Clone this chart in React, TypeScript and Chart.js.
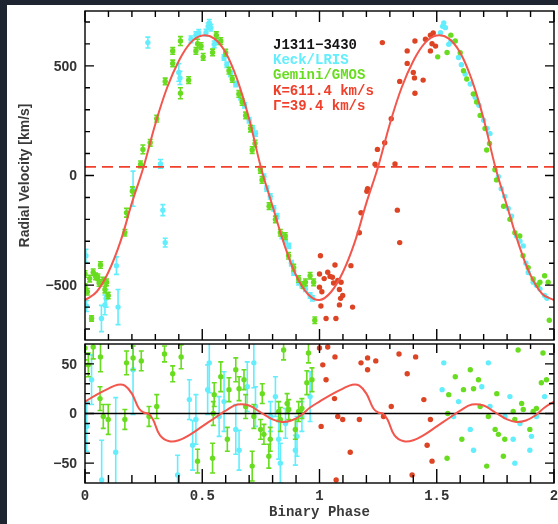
import React, { useEffect, useRef } from "react";
import { Chart, registerables } from "chart.js";
Chart.register(...registerables);

// ---------- data ----------
const gammaVel = 39.4;

// model RV curve over one cycle
const modelPhase = [0, 0.05, 0.1, 0.15, 0.2, 0.25, 0.3, 0.35, 0.4, 0.45, 0.5, 0.55, 0.6, 0.65, 0.7, 0.75, 0.8, 0.85, 0.9, 0.95, 1.0];
const modelVel = [-568, -530, -440, -305, -125, 40, 235, 400, 522, 605, 638, 625, 560, 435, 258, 38, -140, -315, -455, -540, -568];

// model residual curve (lower panel) over one cycle
const resModelPhase = [0, 0.05, 0.1, 0.14, 0.17, 0.2, 0.23, 0.25, 0.27, 0.29, 0.32, 0.36, 0.4, 0.45, 0.5, 0.55, 0.6, 0.65, 0.7, 0.75, 0.8, 0.84, 0.88, 0.92, 0.96, 1.0];
const resModel = [12, 19, 25, 29, 28, 20, 5, 1, 0, -6, -22, -28, -27, -21, -13, -5, 3, 9, 8, 1, -6, -8.5, -7, -2, 6, 12];

// Keck/LRIS radial velocities
const keckPhase = [0.004, 0.006, 0.07, 0.085, 0.09, 0.134, 0.141, 0.205, 0.268, 0.322, 0.332, 0.342, 0.4, 0.405, 0.452, 0.473, 0.485,
  0.516, 0.525, 0.53, 0.537, 0.551, 0.56, 0.593, 0.605, 0.621, 0.643, 0.664, 0.68, 0.7, 0.715, 0.727, 0.763, 0.775, 0.79, 0.805, 0.819,
  0.84, 0.855, 0.869, 0.88, 0.89, 0.911, 0.925, 0.94, 0.96, 0.97];
const keckVel = [-366, -595, -652, -590, -560, -411, -600, -60, 606, 53, -158, -306, 470, 445, 621, 640, 650,
  651, 680, 696, 674, 598, 610, 538, 505, 463, 417, 357, 320, 252, 215, 191, -5, -60, -95, -150, -185,
  -276, -300, -321, -400, -442, -487, -500, -517, -547, -560];
const keckErr = [30, 25, 60, 45, 40, 40, 80, 80, 25, 20, 25, 20, 40, 30, 15, 15, 15,
  15, 15, 15, 15, 15, 12, 12, 12, 12, 12, 12, 12, 12, 12, 12, 12, 12, 12, 12, 12,
  12, 12, 12, 12, 12, 12, 12, 12, 12, 12];

// Gemini/GMOS radial velocities
const gemPhase = [0, 0, 0.01, 0.02, 0.028, 0.035, 0.045, 0.055, 0.06, 0.066, 0.078, 0.085, 0.092, 0.099, 0.17, 0.177, 0.202, 0.237, 0.247, 0.278,
  0.306, 0.342, 0.374, 0.374, 0.407, 0.407, 0.442, 0.473, 0.48, 0.495,
  0.504, 0.544, 0.56, 0.579, 0.6, 0.614, 0.628, 0.656, 0.67, 0.685, 0.706, 0.713, 0.725, 0.748, 0.755, 0.785, 0.812, 0.833, 0.854, 0.868,
  0.89, 0.911, 0.93, 0.94, 0.96, 0.975, 0.98];
const gemVel = [-449, -509, -530, -470, -652, -441, -460, -464, -490, -408, -479, -520, -487, -547, -261, -170, -72, 51, 119, 149,
  259, 429, 511, 568, 375, 613, 435, 568, 601, 590,
  541, 561, 640, 613, 560, 478, 440, 372, 335, 274, 214, 116, 146, 26, -20, -140, -200, -261, -276, -366,
  -420, -472, -500, -487, -457, -487, -660];
const gemErr = [15, 15, 15, 15, 12, 15, 15, 15, 15, 15, 15, 15, 15, 15, 15, 20, 20, 15, 20, 15,
  15, 15, 15, 15, 25, 20, 15, 15, 20, 15,
  15, 15, 15, 15, 15, 15, 15, 15, 15, 15, 15, 15, 15, 15, 15, 15, 15, 15, 15, 15,
  15, 15, 15, 15, 15, 15, 15];

// residuals (lower panel)
const keckResPhase = [0.007, 0.028, 0.071, 0.131, 0.205, 0.395, 0.445, 0.459, 0.473, 0.523, 0.53, 0.572, 0.593, 0.643, 0.657, 0.692, 0.72, 0.727, 0.791, 0.812,
  0.826, 0.833, 0.855, 0.897, 0.904, 0.925, 0.96];
const keckRes = [-13, 34, -67, -39, 44, -62, 14, -32, -6, 24, 51, -3, 12, -16, -37, 27, 51, 7, -3, 17, -26, -50, -10, -37, -23, -3, 17];
const keckResErr = [25, 25, 40, 55, 45, 20, 20, 25, 25, 25, 30, 20, 30, 25, 20, 25, 25, 20, 15, 20, 20, 20, 15, 15, 20, 15, 25];

const gemResPhase = [0, 0.014, 0.035, 0.064, 0.066, 0.078, 0.099, 0.17, 0.177, 0.205, 0.24, 0.273, 0.306, 0.339, 0.374, 0.41, 0.48, 0.544, 0.547, 0.551,
  0.579, 0.607, 0.614, 0.643, 0.657, 0.678, 0.685, 0.713, 0.72, 0.749, 0.756, 0.763, 0.784, 0.79, 0.826, 0.833, 0.847, 0.862, 0.869, 0.897,
  0.911, 0.925, 0.946, 0.953, 0.968];
const gemRes = [66, 49, 67, 15, 57, -3, -6, -6, 51, 56, 53, -3, 7, 60, 40, 57, -48, -45, 0, 19,
  37, -26, 24, 44, 25, 34, 7, -53, -3, -16, 20, -21, -43, -26, 2, -6, 64, 10, 4, -16,
  2, 5, 31, 61, 34];
const gemResErr = [12, 12, 12, 12, 15, 12, 15, 10, 12, 12, 10, 10, 12, 8, 8, 12, 12, 15, 12, 12,
  15, 12, 12, 12, 12, 10, 12, 15, 12, 10, 10, 10, 12, 12, 10, 12, 10, 10, 10, 10,
  10, 10, 12, 10, 12];

// axis ticks / labels
const xTickValues = [0, 0.5, 1, 1.5, 2];
const xTickLabels = ["0", "0.5", "1", "1.5", "2"];
const topYTickValues = [-500, 0, 500];
const topYTickLabels = ["\u2212500", "0", "500"];
const botYTickValues = [-50, 0, 50];
const botYTickLabels = ["\u221250", "0", "50"];
const yTitle = "Radial Velocity [km/s]";
const xTitle = "Binary Phase";
const legendLines = ["J1311\u22123430", "Keck/LRIS", "Gemini/GMOS", "K=611.4 km/s", "\u0393=39.4 km/s"];

// ---------- styles ----------
const CYAN = "#62eefc";
const GREEN = "#68dc1e";
const REDPT = "#dc4424";
const CURVE = "#f2564c";
const DASH = "#f0402c";
const legendColors = ["#151515", CYAN, GREEN, "#f0402c", "#f0402c"];
const SANS = "'Liberation Sans', Arial, sans-serif";
const MONO = "'Liberation Mono', 'DejaVu Sans Mono', monospace";

type P = { x: number; y: number; e?: number };

function makePts(ph: number[], v: number[], err: number[] | null, shift: number, keep: (p: number) => boolean): P[] {
  const out: P[] = [];
  for (let i = 0; i < ph.length; i++) {
    if (!keep(ph[i])) continue;
    out.push({ x: ph[i] + shift, y: v[i], e: err ? err[i] : undefined });
  }
  return out;
}

function periodic(ph: number[], v: number[]): P[] {
  const out: P[] = ph.map((p, i) => ({ x: p, y: v[i] }));
  for (let i = 1; i < ph.length; i++) out.push({ x: ph[i] + 1, y: v[i] });
  return out;
}

const all = () => true;
const firstHalf = (p: number) => p < 0.5;
const secondHalf = (p: number) => p >= 0.5;

const errorBarPlugin = {
  id: "errbars",
  beforeDatasetDraw(chart: any, args: any) {
    const ds = chart.data.datasets[args.index];
    if (!ds.errorBars) return;
    const ys = chart.scales.y;
    const ctx = chart.ctx;
    const a = chart.chartArea;
    ctx.save();
    ctx.beginPath();
    ctx.rect(a.left, a.top, a.right - a.left, a.bottom - a.top);
    ctx.clip();
    ctx.strokeStyle = ds.errorColor;
    ctx.lineWidth = 1.6;
    ds.data.forEach((p: P, i: number) => {
      const el = args.meta.data[i];
      if (!el || p.e === undefined) return;
      const x = el.x;
      const y1 = ys.getPixelForValue(p.y - p.e);
      const y2 = ys.getPixelForValue(p.y + p.e);
      ctx.beginPath();
      ctx.moveTo(x, y1);
      ctx.lineTo(x, y2);
      ctx.moveTo(x - 2.5, y1);
      ctx.lineTo(x + 2.5, y1);
      ctx.moveTo(x - 2.5, y2);
      ctx.lineTo(x + 2.5, y2);
      ctx.stroke();
    });
    ctx.restore();
  },
};

function framePlugin(cfg: {
  yMin: number; yMax: number; yMinorStep: number; yMajorStep: number;
  yTicks: number[]; yLabels: string[];
  xTopLen: [number, number]; xBotLen: [number, number]; yLen: [number, number];
  drawTop: boolean; isBottom: boolean;
}) {
  return {
    id: "frame",
    afterDraw(chart: any) {
      const ctx = chart.ctx;
      const a = chart.chartArea;
      const xs = chart.scales.x;
      const ys = chart.scales.y;
      ctx.save();
      ctx.strokeStyle = "#000";
      ctx.lineWidth = 1.4;
      ctx.strokeRect(a.left, a.top, a.right - a.left, a.bottom - a.top);
      ctx.beginPath();
      for (let i = 0; i <= 20; i++) {
        const v = i / 10;
        const px = xs.getPixelForValue(v);
        const major = i % 5 === 0;
        const lt = major ? cfg.xTopLen[1] : cfg.xTopLen[0];
        const lb = major ? cfg.xBotLen[1] : cfg.xBotLen[0];
        ctx.moveTo(px, a.top);
        ctx.lineTo(px, a.top + lt);
        ctx.moveTo(px, a.bottom);
        ctx.lineTo(px, a.bottom - lb);
      }
      const n = Math.round((cfg.yMax - cfg.yMin) / cfg.yMinorStep);
      for (let i = 0; i <= n; i++) {
        const v = cfg.yMin + i * cfg.yMinorStep;
        const py = ys.getPixelForValue(v);
        if (py < a.top - 0.5 || py > a.bottom + 0.5) continue;
        const major = Math.abs(v % cfg.yMajorStep) < 1e-6;
        const l = major ? cfg.yLen[1] : cfg.yLen[0];
        ctx.moveTo(a.left, py);
        ctx.lineTo(a.left + l, py);
        ctx.moveTo(a.right, py);
        ctx.lineTo(a.right - l, py);
      }
      ctx.stroke();

      // y tick labels
      ctx.fillStyle = "#333";
      ctx.font = "bold 14px " + SANS;
      ctx.textAlign = "right";
      ctx.textBaseline = "middle";
      cfg.yTicks.forEach((v, i) => {
        ctx.fillText(cfg.yLabels[i], a.left - 8, ys.getPixelForValue(v) + 1);
      });

      if (!cfg.isBottom) {
        // y title
        ctx.save();
        ctx.translate(25, (a.top + a.bottom) / 2);
        ctx.rotate(-Math.PI / 2);
        ctx.textAlign = "center";
        ctx.textBaseline = "middle";
        ctx.fillStyle = "#3a3a3a";
        ctx.font = "bold 14px " + SANS;
        ctx.fillText(yTitle, 0, 0);
        ctx.restore();
        // legend text
        ctx.font = "bold 14px " + MONO;
        ctx.textAlign = "left";
        ctx.textBaseline = "middle";
        legendLines.forEach((t, i) => {
          ctx.fillStyle = legendColors[i];
          ctx.fillText(t, 273, 45 + i * 15.4);
        });
      } else {
        ctx.fillStyle = "#333";
        ctx.font = "bold 14px " + MONO;
        ctx.textAlign = "center";
        ctx.textBaseline = "middle";
        xTickValues.forEach((v, i) => {
          ctx.fillText(xTickLabels[i], xs.getPixelForValue(v), a.bottom + 13);
        });
        ctx.fillStyle = "#3a3a3a";
        ctx.fillText(xTitle, (a.left + a.right) / 2, a.bottom + 29);
      }
      ctx.restore();
    },
  };
}

function scatterDs(data: P[], color: string, errors: boolean) {
  return {
    data,
    showLine: false,
    pointRadius: 2.7,
    pointBorderWidth: 0,
    pointBackgroundColor: color,
    pointBorderColor: color,
    errorBars: errors,
    errorColor: color,
    clip: 0,
  } as any;
}

export default function App() {
  const topRef = useRef<HTMLCanvasElement>(null);
  const botRef = useRef<HTMLCanvasElement>(null);

  useEffect(() => {
    document.body.style.margin = "0";
    const topData = [
      {
        data: periodic(modelPhase, modelVel), showLine: true, pointRadius: 0, borderColor: CURVE, borderWidth: 2,
        tension: 0.4, order: 0, clip: 0,
      } as any,
      {
        data: [{ x: 0, y: gammaVel }, { x: 2, y: gammaVel }], showLine: true, pointRadius: 0, borderColor: DASH,
        borderWidth: 1.6, borderDash: [11, 6], order: 1, clip: 0,
      } as any,
      { ...scatterDs(makePts(keckPhase, keckVel, keckErr, 0, all), CYAN, true), order: 5 },
      { ...scatterDs(makePts(gemPhase, gemVel, gemErr, 0, all), GREEN, true), order: 4 },
      { ...scatterDs(makePts(keckPhase, keckVel, null, 1, firstHalf).concat(makePts(gemPhase, gemVel, null, 1, firstHalf)), REDPT, false), order: 3 },
      { ...scatterDs(makePts(keckPhase, keckVel, null, 1, secondHalf), CYAN, false), order: 3 },
      { ...scatterDs(makePts(gemPhase, gemVel, null, 1, secondHalf), GREEN, false), order: 2 },
    ];
    const botData = [
      {
        data: periodic(resModelPhase, resModel), showLine: true, pointRadius: 0, borderColor: CURVE, borderWidth: 2,
        tension: 0.4, order: 0, clip: 0,
      } as any,
      {
        data: [{ x: 0, y: 0 }, { x: 2, y: 0 }], showLine: true, pointRadius: 0, borderColor: "#000",
        borderWidth: 1.4, order: 1, clip: 0,
      } as any,
      { ...scatterDs(makePts(keckResPhase, keckRes, keckResErr, 0, all), CYAN, true), order: 5 },
      { ...scatterDs(makePts(gemResPhase, gemRes, gemResErr, 0, all), GREEN, true), order: 4 },
      { ...scatterDs(makePts(keckResPhase, keckRes, null, 1, firstHalf).concat(makePts(gemResPhase, gemRes, null, 1, firstHalf)), REDPT, false), order: 3 },
      { ...scatterDs(makePts(keckResPhase, keckRes, null, 1, secondHalf), CYAN, false), order: 3 },
      { ...scatterDs(makePts(gemResPhase, gemRes, null, 1, secondHalf), GREEN, false), order: 2 },
    ];

    const common = (pad: any, ymin: number, ymax: number) => ({
      animation: false as const,
      responsive: false,
      devicePixelRatio: 1,
      events: [] as any,
      layout: { padding: pad },
      scales: {
        x: { type: "linear" as const, min: 0, max: 2, display: false },
        y: { type: "linear" as const, min: ymin, max: ymax, display: false },
      },
      plugins: { legend: { display: false }, tooltip: { enabled: false } },
    });

    const top = new Chart(topRef.current!, {
      type: "scatter",
      data: { datasets: topData },
      options: common({ left: 85, top: 11, right: 1.5, bottom: 1 }, -750, 750) as any,
      plugins: [
        errorBarPlugin as any,
        framePlugin({
          yMin: -700, yMax: 700, yMinorStep: 100, yMajorStep: 500, yTicks: topYTickValues, yLabels: topYTickLabels,
          xTopLen: [6, 11], xBotLen: [6, 11], yLen: [5, 9], drawTop: true, isBottom: false,
        }) as any,
      ],
    });
    const bot = new Chart(botRef.current!, {
      type: "scatter",
      data: { datasets: botData },
      options: common({ left: 85, top: 3, right: 1.5, bottom: 41 }, -70, 70) as any,
      plugins: [
        errorBarPlugin as any,
        framePlugin({
          yMin: -60, yMax: 60, yMinorStep: 10, yMajorStep: 50, yTicks: botYTickValues, yLabels: botYTickLabels,
          xTopLen: [5, 9], xBotLen: [8, 14], yLen: [5, 9], drawTop: true, isBottom: true,
        }) as any,
      ],
    });
    return () => {
      top.destroy();
      bot.destroy();
    };
  }, []);

  return (
    <div style={{ position: "relative", width: 558, height: 524, background: "#1f2530", overflow: "hidden" }}>
      <div style={{ position: "absolute", left: 7, top: 5, width: 551, height: 519, background: "#fff" }} />
      <canvas ref={topRef} width={558} height={344} style={{ position: "absolute", left: 0, top: 0, width: 558, height: 344 }} />
      <canvas ref={botRef} width={558} height={184} style={{ position: "absolute", left: 0, top: 340, width: 558, height: 184 }} />
    </div>
  );
}
